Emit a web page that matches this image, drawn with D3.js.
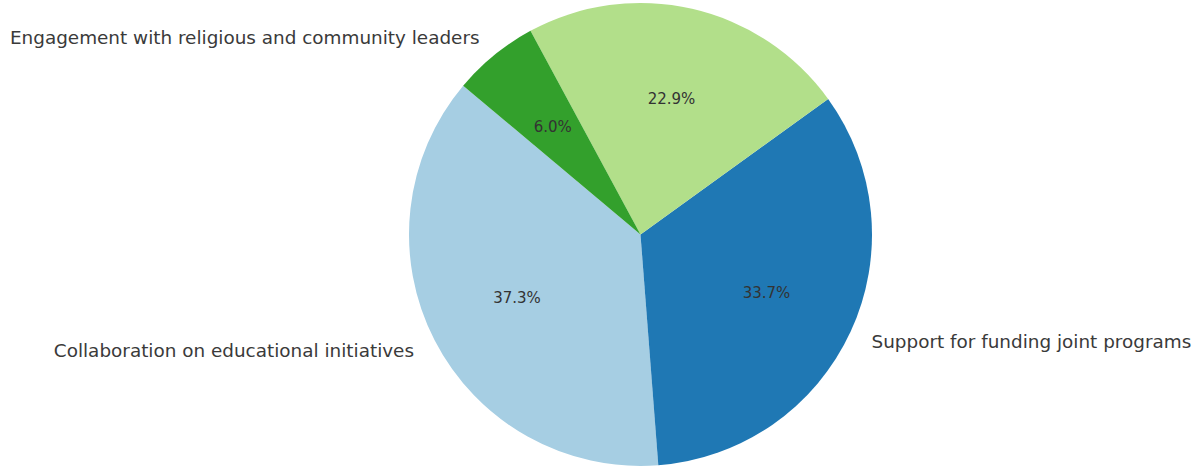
<!DOCTYPE html>
<html>
<head>
<meta charset="utf-8">
<script src="https://cdn.jsdelivr.net/npm/d3@7"></script>
<style>
  html, body { margin: 0; padding: 0; background: #fff; }
  svg { display: block; }
</style>
</head>
<body>
<svg id="chart" width="1200" height="467"></svg>
<script>
// Slice categories (in drawing order, counter-clockwise) and their shares
const categories = [
  "Collaboration on educational initiatives",
  "Support for funding joint programs",
  null,
  "Engagement with religious and community leaders"
];
const shares = [37.3, 33.7, 22.9, 6.0];
const colors = ["#a6cee3", "#1f78b4", "#b2df8a", "#33a02c"];

const width = 1200, height = 467;
const cx = 640.5, cy = 234.5, radius = 231.5;
const startDeg = 140; // first slice starts here, measured counter-clockwise from 3 o'clock

const svg = d3.select("#chart");
const g = svg.append("g").attr("transform", `translate(${cx},${cy})`);

const data = categories.map((c, i) => ({ name: c, value: shares[i], color: colors[i] }));

// d3 angles run clockwise from 12 o'clock, so go the negative way to lay slices counter-clockwise
const start = (90 - startDeg) * Math.PI / 180;
const pie = d3.pie()
  .sort(null)
  .value(d => d.value)
  .startAngle(start)
  .endAngle(start - 2 * Math.PI);

const arcs = pie(data);
const arc = d3.arc().innerRadius(0).outerRadius(radius);

g.selectAll("path.slice")
  .data(arcs)
  .join("path")
  .attr("class", "slice")
  .attr("d", arc)
  .attr("fill", d => d.data.color);

const fmt = d3.format(".1f");
const mid = d => (d.startAngle + d.endAngle) / 2;

// Percentage labels inside slices
g.selectAll("text.pct")
  .data(arcs)
  .join("text")
  .attr("class", "pct")
  .attr("x", d => Math.sin(mid(d)) * radius * 0.6)
  .attr("y", d => -Math.cos(mid(d)) * radius * 0.6)
  .attr("text-anchor", "middle")
  .attr("dominant-baseline", "central")
  .attr("font-family", "DejaVu Sans, sans-serif")
  .attr("font-size", 15)
  .attr("fill", "#333333")
  .text(d => fmt(d.data.value) + "%");

// Category labels outside the pie
g.selectAll("text.lbl")
  .data(arcs.filter(d => d.data.name))
  .join("text")
  .attr("class", "lbl")
  .attr("x", d => Math.sin(mid(d)) * radius * 1.1)
  .attr("y", d => -Math.cos(mid(d)) * radius * 1.1)
  .attr("text-anchor", d => Math.sin(mid(d)) < 0 ? "end" : "start")
  .attr("dominant-baseline", "central")
  .attr("font-family", "DejaVu Sans, sans-serif")
  .attr("font-size", 18.4)
  .attr("fill", "#3a3a3a")
  .text(d => d.data.name);
</script>
</body>
</html>
